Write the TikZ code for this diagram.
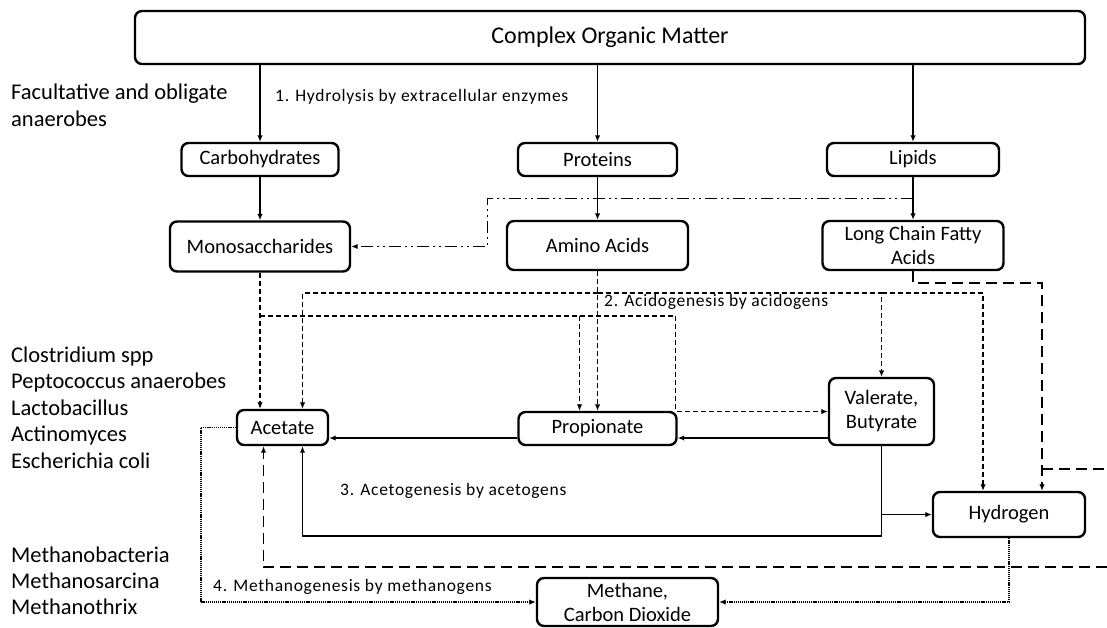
\documentclass[tikz,border=0pt]{standalone}
\usepackage{fontspec}
\setmainfont{Carlito}
\newfontfamily\stagefont[LetterSpace=4]{Carlito}
\usetikzlibrary{arrows.meta,calc}
\newcommand\boxfont{\fontsize{20.5}{24}\selectfont}
\newcommand\sidefont{\fontsize{22.5}{27}\selectfont}

\begin{document}
\begin{tikzpicture}[x=1pt,y=-1pt,
	box/.style={draw,line width=2.4pt,rounded corners=7pt,align=center,inner sep=0pt,font=\boxfont},
	arr/.style={line width=1.3pt,-{Latex[length=6.5pt,width=5.5pt]}},
	acid/.style={arr,dash pattern=on 5pt off 3pt},
	fatty/.style={arr,dash pattern=on 11pt off 6pt},
	meth/.style={arr,line width=1.5pt,dash pattern=on 1.2pt off 0.9pt},
	ddot/.style={arr,dash pattern=on 12pt off 4pt on 2pt off 4pt on 2pt off 4pt},
	side/.style={anchor=base west,inner sep=0pt,font=\sidefont},
	stage/.style={anchor=west,inner sep=0pt,font=\stagefont\fontsize{17.5}{20}\selectfont}]
	\useasboundingbox (0,0) rectangle (1107,627);
	% substrates and products
	\node[box,minimum width=950pt,minimum height=53pt,font=\fontsize{24}{28}\selectfont] (com) at (610,37.5) {Complex Organic Matter};
	\node[box,minimum width=157pt,minimum height=33pt] (carb) at (260,159.5) {Carbohydrates};
	\node[box,minimum width=159pt,minimum height=33pt] (prot) at (597.5,159.5) {Proteins};
	\node[box,minimum width=172pt,minimum height=33pt] (lip) at (913,159.5) {Lipids};
	\node[box,minimum width=180pt,minimum height=50pt] (mono) at (260,246.5) {Monosaccharides};
	\node[box,minimum width=181pt,minimum height=49pt] (amino) at (597.5,245.5) {Amino Acids};
	\node[box,minimum width=181pt,minimum height=49pt] (lcfa) at (913,245.5) {Long Chain Fatty\\Acids};
	\node[box,minimum width=91pt,minimum height=35pt] (acet) at (282.5,427.5) {Acetate};
	\node[box,minimum width=158pt,minimum height=33pt] (prop) at (597.5,428.5) {Propionate};
	\node[box,minimum width=105pt,minimum height=67pt] (val) at (881.5,411.5) {Valerate,\\Butyrate};
	\node[box,minimum width=152pt,minimum height=45pt] (hyd) at (1009,514.5) {Hydrogen};
	\node[box,minimum width=181pt,minimum height=48pt] (meth) at (627.5,602) {Methane,\\Carbon Dioxide};

	% 1. hydrolysis
	\foreach \n in {carb,prot,lip} \draw[arr] (com.south -| \n.north) -- (\n.north);
	\draw[arr] (carb) -- (mono);
	\draw[arr] (prot) -- (amino);
	\draw[arr] (lip) -- (lcfa);
	\coordinate (lipmid) at ($(lip.south)!0.5!(lcfa.north)$);
	\draw[ddot] (lipmid) -| ($(mono.east)+(136,0)$) -- (mono.east);

	% 2. acidogenesis
	\draw[acid] (mono.south) -- (mono.south |- acet.north);
	\draw[acid] (mono.south |- 0,316) -| ([xshift=-152pt]val.west) -- (val.west);
	\draw[acid] ([xshift=-18pt]prop.north |- 0,316) -- ([xshift=-18pt]prop.north);
	\draw[acid] (amino.south) -- (prop.north);
	\coordinate (a1) at (amino.south |- 0,293);
	\draw[acid] (a1) -| ([xshift=20pt]acet.north);
	\draw[acid] (a1) -| (val.north);
	\draw[acid] (val.north |- a1) -| ([xshift=-26pt]hyd.north);
	\draw[fatty] (lcfa.south) |- ([xshift=33pt]hyd.north |- 0,283) -- ([xshift=33pt]hyd.north);
	\draw[fatty,-] ([xshift=33pt]hyd.north |- 0,469) -- (1107,469);
	\draw[fatty] (1107,567) -| ([xshift=-19pt]acet.south);

	% 3. acetogenesis
	\draw[arr] (val.west |- 0,438) -- (prop.east |- 0,438);
	\draw[arr] (prop.west |- 0,438) -- (acet.east |- 0,438);
	\draw[arr] (val.south) |- ([xshift=20pt]acet.south |- 0,536) -- ([xshift=20pt]acet.south);
	\draw[arr] (val.south |- hyd.west) -- (hyd.west);

	% 4. methanogenesis
	\draw[meth] (acet.west) -- ([xshift=-35pt]acet.west) |- (meth.west);
	\draw[meth] (hyd.south) |- (meth.east);

	\node[stage] (hydro) at (275,97) {1. Hydrolysis by extracellular enzymes};
	\node[stage] (acido) at (604,302) {2. Acidogenesis by acidogens};
	\node[stage] (aceto) at (340,491) {3. Acetogenesis by acetogens};
	\node[stage] (metha) at (213,587) {4. Methanogenesis by methanogens};

	% organisms
	\node[side] (fac1) at (11,99) {Facultative and obligate};
	\node[side] (fac2) at (11,126) {anaerobes};
	\foreach \t [count=\i] in {Clostridium spp,Peptococcus anaerobes,Lactobacillus,Actinomyces,Escherichia coli}
		\node[side] (acid\i) at (11,{362+26.6*(\i-1)}) {\t};
	\foreach \t [count=\i] in {Methanobacteria,Methanosarcina,Methanothrix}
		\node[side] (mgen\i) at (11,{562+26*(\i-1)}) {\t};
\end{tikzpicture}
\end{document}
